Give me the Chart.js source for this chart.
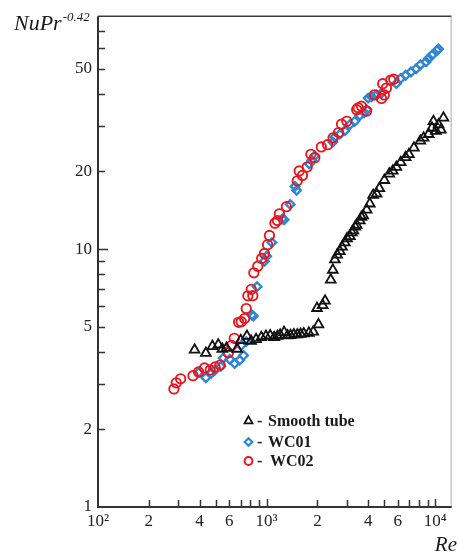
<!DOCTYPE html>
<html>
<head>
<meta charset="utf-8">
<script src="https://cdn.jsdelivr.net/npm/chart.js@4.4.1/dist/chart.umd.min.js"></script>
<style>
  html, body { margin: 0; padding: 0; background: #ffffff; }
  canvas { display: block; }
</style>
</head>
<body>
<canvas id="c" width="459" height="553" style="width:459px;height:553px"></canvas>
<script>
// Reynolds number vs NuPr^-0.42 for a smooth tube and two wire-coil inserts

// Smooth tube
const reSmooth = [374, 436, 477, 517, 546, 578, 668, 702, 764, 809, 866, 930, 990, 1050, 1109, 1160, 1203, 1269, 1330, 1385, 1450, 1522, 1590, 1660, 1780, 1890, 2030, 1990, 2150, 2220, 2400, 2470, 2540, 2620, 2720, 2800, 2910, 3000, 3120, 3200, 3270, 3350, 3420, 3570, 3650, 3740, 3920, 4090, 4280, 4485, 4660, 4990, 5340, 5600, 5880, 6240, 6670, 6980, 7470, 8160, 8530, 9140, 9560, 9750, 10090, 10460, 10800, 11180];
const nuSmooth = [4.07, 3.95, 4.2, 4.26, 4.1, 4.13, 4.1, 4.43, 4.6, 4.4, 4.47, 4.55, 4.6, 4.62, 4.55, 4.6, 4.65, 4.76, 4.62, 4.63, 4.66, 4.66, 4.68, 4.7, 4.73, 4.78, 5.1, 5.9, 6.05, 6.3, 7.6, 8.3, 9.1, 9.5, 9.8, 10.2, 10.6, 11.0, 11.2, 11.6, 11.8, 12.2, 12.4, 12.9, 13.3, 13.5, 14.2, 15.0, 16.2, 16.4, 17.2, 18.5, 19.6, 20.1, 20.8, 21.7, 22.7, 23.3, 24.7, 26.3, 27.0, 27.9, 29.5, 31.3, 28.7, 30.4, 29.0, 32.3];

// WC01
const reWC01 = [395, 436, 470, 495, 535, 553, 605, 647, 692, 730, 707, 757, 817, 835, 878, 970, 1000, 1074, 1240, 1270, 1380, 1475, 1505, 1790, 1850, 1930, 2470, 2540, 2720, 2910, 3120, 3330, 3570, 3800, 3920, 4000, 4190, 4485, 4800, 5880, 6240, 6670, 7170, 7700, 8160, 8815, 9140, 9560, 10220, 10460];
const nuWC01 = [3.32, 3.17, 3.3, 3.4, 3.51, 3.78, 3.74, 3.6, 3.71, 3.87, 4.23, 4.38, 5.55, 5.5, 7.15, 8.97, 9.38, 10.6, 13.1, 13.0, 14.9, 17.5, 16.9, 21.4, 22.1, 23.0, 26.0, 27.2, 27.9, 28.8, 30.4, 31.3, 33.0, 33.8, 34.7, 38.5, 39.0, 39.6, 40.2, 43.8, 45.9, 47.2, 48.6, 50.0, 51.8, 53.2, 54.9, 56.5, 58.9, 59.7];

// WC02
const reWC02 = [282, 291, 309, 366, 395, 428, 463, 495, 530, 593, 620, 643, 682, 707, 740, 757, 774, 828, 811, 840, 886, 935, 970, 1013, 1039, 1120, 1160, 1190, 1310, 1520, 1560, 1630, 1740, 1830, 1930, 2110, 2300, 2480, 2670, 2780, 2990, 3420, 3490, 3650, 3920, 4360, 4800, 4990, 4880, 5135, 5440, 5670];
const nuWC02 = [2.87, 3.03, 3.14, 3.23, 3.34, 3.46, 3.4, 3.49, 3.55, 3.96, 4.23, 4.51, 5.2, 5.23, 5.38, 5.88, 6.59, 6.6, 6.98, 8.09, 8.58, 9.2, 9.62, 10.4, 11.3, 12.6, 12.9, 13.7, 14.6, 18.4, 20.1, 19.3, 20.8, 23.3, 22.6, 24.9, 25.4, 27.0, 28.3, 30.5, 31.3, 34.7, 35.3, 35.8, 34.3, 39.6, 38.4, 39.6, 43.8, 42.1, 45.2, 45.6];

// Series names
const seriesNames = ['Smooth tube', 'WC01', 'WC02'];

// Axis ticks
const xTickValues = [100, 200, 300, 400, 500, 600, 700, 800, 900, 1000, 2000, 3000, 4000, 5000, 6000, 7000, 8000, 9000, 10000];
const xTickLabels = { 100: '10\u00B2', 200: '2', 400: '4', 600: '6', 1000: '10\u00B3', 2000: '2', 4000: '4', 6000: '6', 10000: '10\u2074' };
const yTickValues = [1, 2, 3, 4, 5, 6, 7, 8, 9, 10, 20, 30, 40, 50, 60, 70];
const yTickLabels = { 1: '1', 2: '2', 5: '5', 10: '10', 20: '20', 50: '50' };

const toPoints = (xs, ys) => xs.map((x, i) => ({ x: x, y: ys[i] }));

const BLACK = '#111111';
const BLUE = '#2b86d4';
const RED = '#e8161e';
const SERIF = "'Liberation Serif', 'DejaVu Serif', serif";

function marker(ctx, style, x, y, r, color, lw) {
  ctx.save();
  ctx.strokeStyle = color;
  ctx.lineWidth = lw;
  ctx.beginPath();
  if (style === 'triangle') {
    for (let k = 0; k < 3; k++) {
      const a = -Math.PI / 2 + k * 2 * Math.PI / 3;
      const px = x + r * Math.cos(a), py = y + r * Math.sin(a);
      if (k === 0) ctx.moveTo(px, py); else ctx.lineTo(px, py);
    }
    ctx.closePath();
  } else if (style === 'diamond') {
    ctx.moveTo(x, y - r); ctx.lineTo(x + r, y); ctx.lineTo(x, y + r); ctx.lineTo(x - r, y);
    ctx.closePath();
  } else {
    ctx.arc(x, y, r, 0, Math.PI * 2);
  }
  ctx.stroke();
  ctx.restore();
}

const framePlugin = {
  id: 'frame',
  afterDraw(chart) {
    const ctx = chart.ctx;
    const a = chart.chartArea;
    const xs = chart.scales.x, ys = chart.scales.y;
    ctx.save();
    // top and right edges
    ctx.strokeStyle = '#3a3a3a';
    ctx.lineWidth = 1.5;
    ctx.beginPath();
    ctx.moveTo(a.left, a.top); ctx.lineTo(a.right, a.top);
    ctx.stroke();
    ctx.strokeStyle = '#a8a8a8';
    ctx.lineWidth = 1;
    ctx.beginPath();
    ctx.moveTo(a.right - 0.5, a.top); ctx.lineTo(a.right - 0.5, a.bottom);
    ctx.stroke();
    // left and bottom axes
    ctx.strokeStyle = '#333333';
    ctx.lineWidth = 2;
    ctx.beginPath();
    ctx.moveTo(a.left, a.top); ctx.lineTo(a.left, a.bottom); ctx.lineTo(a.right, a.bottom);
    ctx.stroke();
    // inward tick marks
    ctx.lineWidth = 1.5;
    yTickValues.forEach(v => {
      if (v === 1) return;
      const py = Math.round(ys.getPixelForValue(v)) + 0.5;
      const len = v === 10 ? 10 : 7;
      ctx.beginPath(); ctx.moveTo(a.left, py); ctx.lineTo(a.left + len, py); ctx.stroke();
    });
    xTickValues.forEach(v => {
      if (v === 100) return;
      const px = Math.round(xs.getPixelForValue(v)) + 0.5;
      const len = (v === 1000 || v === 10000) ? 8 : 7;
      ctx.beginPath(); ctx.moveTo(px, a.bottom); ctx.lineTo(px, a.bottom - len); ctx.stroke();
    });
    // axis titles
    ctx.fillStyle = '#1a1a1a';
    ctx.textBaseline = 'alphabetic';
    ctx.textAlign = 'left';
    ctx.font = 'italic 22px ' + SERIF;
    ctx.fillText('NuPr', 14, 30);
    const w = ctx.measureText('NuPr').width;
    ctx.font = 'italic 13px ' + SERIF;
    ctx.fillText('-0.42', 14 + w + 1, 21);
    ctx.font = 'italic 21px ' + SERIF;
    ctx.textAlign = 'right';
    ctx.fillText('Re', 457, 551);
    // legend
    const rows = [
      { style: 'triangle', color: BLACK, lw: 1.8, r: 4.6, y: 421 },
      { style: 'diamond', color: BLUE, lw: 2.2, r: 3.8, y: 442 },
      { style: 'circle', color: RED, lw: 2, r: 3.9, y: 461 }
    ];
    ctx.textBaseline = 'middle';
    rows.forEach((r, i) => {
      marker(ctx, r.style, 248.5, r.y, r.r, r.color, r.lw);
      ctx.fillStyle = '#1a1a1a';
      ctx.textAlign = 'left';
      ctx.font = 'bold 16px ' + SERIF;
      ctx.fillText('-', 257, r.y + 1);
      ctx.fillText(seriesNames[i], i === 2 ? 270 : 268, r.y + 1);
    });
    ctx.restore();
  }
};

const tickFont = { family: SERIF, size: 17 };

new Chart(document.getElementById('c'), {
  type: 'scatter',
  data: {
    datasets: [
      {
        label: seriesNames[0], data: toPoints(reSmooth, nuSmooth), order: 0,
        pointStyle: 'triangle', pointRadius: 5.6, borderColor: BLACK, backgroundColor: 'rgba(0,0,0,0)', borderWidth: 1.8
      },
      {
        label: seriesNames[1], data: toPoints(reWC01, nuWC01), order: 2,
        pointStyle: 'rectRot', pointRadius: 4.3, borderColor: BLUE, backgroundColor: 'rgba(0,0,0,0)', borderWidth: 2.3
      },
      {
        label: seriesNames[2], data: toPoints(reWC02, nuWC02), order: 1,
        pointStyle: 'circle', pointRadius: 4.7, borderColor: RED, backgroundColor: 'rgba(0,0,0,0)', borderWidth: 1.9
      }
    ]
  },
  options: {
    responsive: false,
    animation: false,
    devicePixelRatio: 1,
    layout: { padding: { left: 0, top: 11, right: 2, bottom: 0 } },
    plugins: { legend: { display: false }, tooltip: { enabled: false } },
    scales: {
      x: {
        type: 'logarithmic', position: 'bottom', min: 100, max: 12500,
        afterBuildTicks: s => { s.ticks = xTickValues.map(v => ({ value: v })); },
        afterFit: s => { s.height = 46; },
        grid: { display: false, drawTicks: false },
        border: { display: false },
        ticks: {
          autoSkip: false, maxRotation: 0, minRotation: 0, padding: 4,
          font: tickFont, color: '#222222',
          callback: v => (xTickLabels[v] !== undefined ? xTickLabels[v] : '')
        }
      },
      y: {
        type: 'logarithmic', position: 'left', min: 1, max: 80,
        afterBuildTicks: s => { s.ticks = yTickValues.map(v => ({ value: v })); },
        afterFit: s => { s.width = 98; },
        grid: { display: false, drawTicks: false },
        border: { display: false },
        ticks: {
          autoSkip: false, padding: 6,
          font: tickFont, color: '#222222',
          callback: v => (yTickLabels[v] !== undefined ? yTickLabels[v] : '')
        }
      }
    }
  },
  plugins: [framePlugin]
});
</script>
</body>
</html>
